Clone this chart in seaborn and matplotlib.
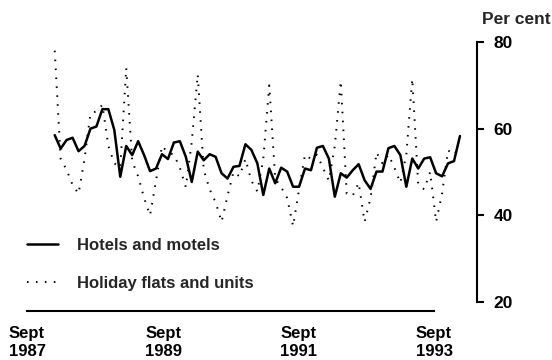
import numpy as np
import pandas as pd
import matplotlib
matplotlib.use('Agg')
import matplotlib.pyplot as plt
import seaborn as sns

sns.set_style('white')
plt.rcParams['font.family'] = ['Liberation Sans', 'DejaVu Sans']
plt.rcParams['font.weight'] = 'bold'

# monthly occupancy rates, Jan 1988 .. Sept 1993
hotels = [58.5, 55.4, 57.4, 57.9, 54.8, 56.0, 60.0, 60.5, 64.5, 64.5, 59.7, 48.9,
          56.0, 53.9, 57.1, 53.9, 50.2, 50.8, 54.1, 53.0, 56.8, 57.1, 53.5, 47.7,
          54.7, 52.7, 54.1, 53.5, 49.7, 48.5, 51.2, 51.4, 56.4, 55.1, 52.0, 44.7,
          50.8, 47.4, 51.0, 50.1, 46.6, 46.6, 50.8, 50.4, 55.6, 56.0, 53.1, 44.3,
          49.7, 48.7, 50.4, 51.8, 48.1, 46.1, 50.1, 50.1, 55.5, 56.0, 53.9, 46.6,
          53.1, 50.8, 53.1, 53.4, 49.7, 49.0, 52.0, 52.5, 58.3]
holiday = [78.0, 53.0, 50.5, 47.0, 45.0, 53.0, 63.5, 64.0, 65.5, 56.0, 52.0, 51.0,
           74.0, 52.5, 49.0, 44.0, 40.0, 48.0, 56.0, 54.5, 54.0, 51.0, 46.5, 57.0,
           72.5, 50.5, 46.0, 43.0, 38.5, 44.5, 50.0, 49.0, 53.0, 48.0, 45.5, 53.0,
           70.0, 48.5, 46.5, 44.0, 37.5, 46.0, 54.0, 53.0, 54.0, 51.0, 48.0, 56.0,
           71.0, 45.0, 44.5, 47.5, 38.5, 44.0, 54.5, 52.0, 54.0, 51.0, 47.5, 54.0,
           71.5, 47.0, 46.0, 50.0, 38.5, 45.0, 55.0, 54.0, 56.0]
months = np.arange(len(hotels))  # months since Jan 1988

tick_labels = ['Sept\n1987', 'Sept\n1989', 'Sept\n1991', 'Sept\n1993']
tick_pos = [-4.65, 18.2, 40.85, 63.65]
y_ticks = [20, 40, 60, 80]

df = pd.DataFrame({'month': months, 'hotels': hotels, 'holiday': holiday})

fig = plt.figure(figsize=(5.52, 3.6), dpi=100)
ax = fig.add_axes([27 / 552, 49 / 360, 450 / 552, 269 / 360])

sns.lineplot(data=df, x='month', y='hotels', color='black', lw=1.8,
             label='Hotels and motels', ax=ax)
sns.lineplot(data=df, x='month', y='holiday', color='black', lw=1.4,
             linestyle=(0, (0.8, 3.8)), label='Holiday flats and units', ax=ax)

ax.set_xlim(-4.65, 70.86)
ax.set_ylim(17.92, 80)
ax.set_xlabel('')
ax.set_ylabel('')

for s in ['top', 'left']:
    ax.spines[s].set_visible(False)
ax.spines['right'].set_bounds(20, 80)
ax.spines['bottom'].set_bounds(tick_pos[0], tick_pos[-1])
ax.spines['right'].set_linewidth(1.5)
ax.spines['bottom'].set_linewidth(1.5)
ax.spines['right'].set_color('black')
ax.spines['bottom'].set_color('black')

ax.yaxis.tick_right()
ax.set_yticks(y_ticks)
ax.set_xticks(tick_pos)
ax.set_xticklabels(tick_labels, linespacing=1.25)
ax.tick_params(axis='y', direction='out', length=5, width=1.5, pad=7,
               labelsize=12.5, colors='black')
ax.tick_params(axis='x', direction='out', length=5, width=1.2, pad=5.5,
               labelsize=12, colors='black')

fig.text(482 / 552, 340 / 360, 'Per cent', ha='left', va='center', fontsize=12.5)

ax.legend(loc='lower left', bbox_to_anchor=(27 / 552, 69 / 360),
          bbox_transform=fig.transFigure, frameon=False, fontsize=12,
          handlelength=1.85, handletextpad=1.15, labelspacing=1.4,
          borderpad=0, borderaxespad=0)

fig.savefig('out.png', dpi=100)
